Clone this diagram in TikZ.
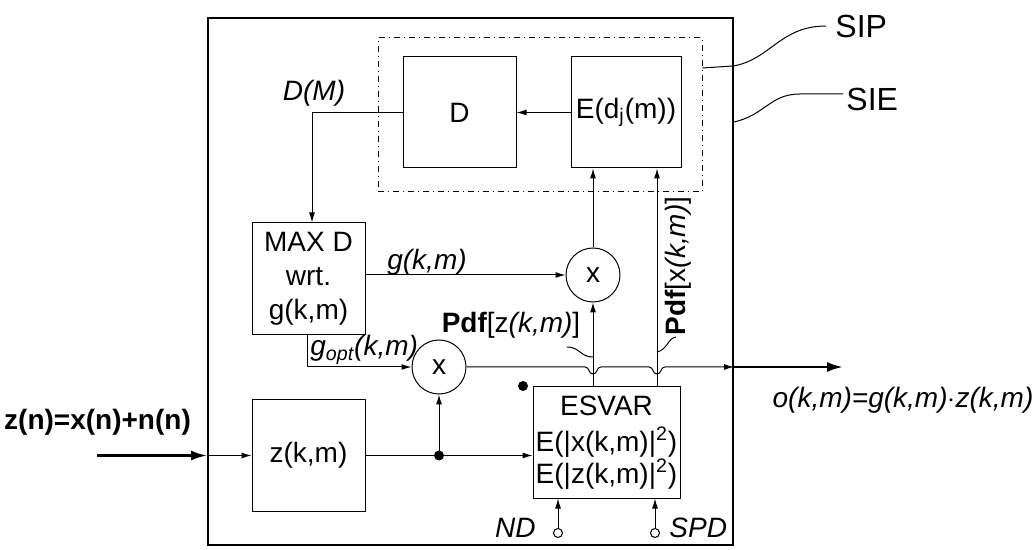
\documentclass[tikz,border=0pt]{standalone}
\usepackage{fontspec}
\setmainfont{Liberation Sans}
\usetikzlibrary{arrows.meta}
\begin{document}
\begin{tikzpicture}[x=0.5pt,y=-0.5pt,
  txt/.style={font=\fontsize{14}{16}\selectfont},
  box/.style={draw, line width=0.5pt, inner sep=0pt, txt},
  mult/.style={draw, line width=0.5pt, circle, minimum size=27pt, inner sep=0pt, txt},
  wire/.style={line width=0.5pt},
  arr/.style={wire, -{Latex[length=5pt,width=3pt]}},
  bigarr/.style={line width=1.2pt, -{Latex[length=8pt,width=5pt]}},
  lbl/.style={inner sep=0pt, font=\fontsize{14}{16}\selectfont\itshape},
  jdot/.style={circle, fill, inner sep=0pt, minimum size=5pt},
  term/.style={circle, draw, line width=0.5pt, inner sep=0pt, minimum size=4.5pt},
  leader/.style={line width=0.5pt}
]
\useasboundingbox (0,0) rectangle (1033,550);
% outer and SIP boxes
\node[draw, line width=1pt, minimum width=262.5pt, minimum height=263.5pt, inner sep=0pt] (OB) at (470.5,281.5) {};
\node[draw, line width=0.5pt, dash dot, minimum width=162pt, minimum height=77pt, inner sep=0pt] (SIPB) at (540,115) {};
% blocks
\node[box, minimum width=56.5pt, minimum height=55.5pt] (D) at (459.5,112.5) {D};
\node[box, minimum width=55pt, minimum height=55.5pt] (E) at (626,112.5) {E(d\textsubscript{j}(m))};
\node[box, minimum width=56.5pt, minimum height=56pt, align=center] (MAX) at (308.5,279) {MAX D\\[1pt]wrt.\\[1pt]g(k,m)};
\node[box, minimum width=56.5pt, minimum height=55.5pt] (Z) at (308.5,455.5) {z(k,m)};
\node[box, minimum width=73.5pt, minimum height=55.5pt, align=center] (ESV) at (606.5,442.5) {ESVAR\\[2pt]E(|x(k,m)|\textsuperscript{2})\\E(|z(k,m)|\textsuperscript{2})};
\node[mult] (c1) at (593,275) {x};
\node[mult] (c2) at (439,367) {x};
% junctions and terminals
\node[jdot] (j1) at (439,455.5) {};
\node[jdot] (lone) at (523,386) {};
\node[term] (nd) at (558,533) {};
\node[term] (spd) at (655,533) {};
\coordinate (inL) at (97,455.5);
\coordinate (inB) at (Z.west -| OB.west);
\coordinate (outB) at (OB.east |- c2.east);
\coordinate (outR) at (843,367);
% labels
\node[lbl] (lDM) at (314,93) {D(M)};
\node[lbl] (lg) at (427,262) {g(k,m)};
\node[lbl, anchor=west] (lgopt) at (310,350) {g\textsubscript{opt}(k,m)};
\node[inner sep=0pt, txt] (lpz) at (511,325) {\textbf{Pdf}[z\textit{(k,m)}]};
\node[inner sep=0pt, txt, rotate=90] (lpx) at (678,266) {\textbf{Pdf}[x\textit{(k,m)}]};
\node[lbl, anchor=east] (lnd) at (536,528) {ND};
\node[lbl, anchor=west] (lspd) at (669,528) {SPD};
\node[inner sep=0pt, font=\fontsize{14}{16}\selectfont\bfseries] (lin) at (97.5,422) {z(n)=x(n)+n(n)};
\node[lbl] (lout) at (903,400) {o(k,m)=g(k,m)$\cdot$z(k,m)};
\node[inner sep=0pt, anchor=west, font=\fontsize{16}{18}\selectfont] (SIP) at (835,26) {SIP};
\node[inner sep=0pt, anchor=west, font=\fontsize{16}{18}\selectfont] (SIE) at (846,99) {SIE};
% connectors
\draw[arr] (E.west) -- (D.east);
\draw[arr] (D.west) -- (312,112.5) -- (MAX.north -| 312,0);
\draw[arr] (c1.west -| MAX.east) -- (c1.west);
\draw[arr] (c1.north) -- (c1.north |- E.south);
\draw[arr] (ESV.north -| c1) -- (c1.south);
\draw[arr] (ESV.north -| 657,0) -- (E.south -| 657,0);
\draw[arr] (MAX.south -| 307,0) -- (307,367) -- (c2.west);
\draw[arr] (c2.east) -- (585,367) .. controls (590,367) and (588,374) .. (593,374)
  .. controls (598,374) and (596,367) .. (601,367) -- (649,367)
  .. controls (654,367) and (652,374) .. (657,374)
  .. controls (662,374) and (660,367) .. (665,367) -- (outB);
\draw[bigarr] (outB) -- (outR);
\draw[bigarr] (inL) -- (inB);
\draw[arr] (inB) -- (Z.west);
\draw[wire] (Z.east) -- (j1.center);
\draw[arr] (j1.center) -- (ESV.west |- j1);
\draw[arr] (j1.center) -- (c2.south);
\draw[arr] (nd.north) -- (ESV.south -| nd);
\draw[arr] (spd.north) -- (ESV.south -| spd);
% leaders
\draw[leader] (567,347) .. controls (580,347) and (580,357) .. (593,357);
\draw[leader] (657,352) .. controls (667,350) and (668,338) .. (676,337);
\draw[leader] (SIPB.east |- 0,68) -- (733,66) .. controls (770,60) and (780,26) .. (826,26);
\draw[leader] (OB.east |- 0,122) .. controls (765,115) and (770,94) .. (800,94) -- (843,94);
\end{tikzpicture}
\end{document}
